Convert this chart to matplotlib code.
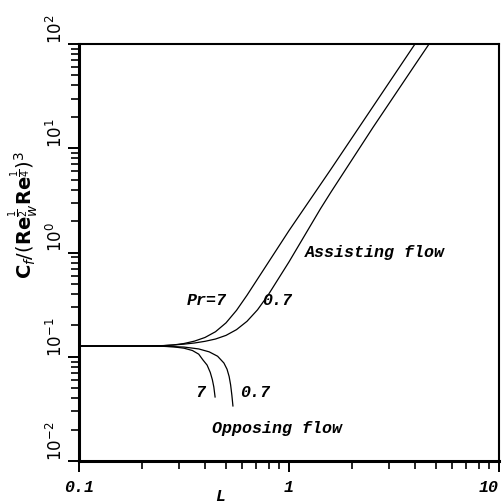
import matplotlib
matplotlib.use("Agg")
import matplotlib.pyplot as plt
import numpy as np
from matplotlib.ticker import LogLocator, NullFormatter, FixedLocator

# values, stored as log10 (both axes are logarithmic)
lx_assist_7 = [-1.0, -0.7, -0.6, -0.55, -0.5, -0.45, -0.4, -0.35, -0.3, -0.25, -0.2, -0.15, -0.1,
               0.0, 0.1, 0.2, 0.3, 0.4, 0.5, 0.6]
ly_assist_7 = [-0.897, -0.897, -0.894, -0.887, -0.873, -0.85, -0.815, -0.76, -0.675, -0.555, -0.41, -0.255, -0.1,
               0.21, 0.505, 0.8, 1.1, 1.4, 1.7, 2.0]

lx_assist_07 = [-1.0, -0.7, -0.6, -0.55, -0.5, -0.45, -0.4, -0.35, -0.3, -0.25, -0.2, -0.15, -0.1, -0.05,
                0.0, 0.05, 0.1, 0.15, 0.2, 0.3, 0.4, 0.5, 0.6, 0.667]
ly_assist_07 = [-0.897, -0.897, -0.893, -0.887, -0.879, -0.868, -0.852, -0.83, -0.795, -0.74, -0.66, -0.55, -0.41, -0.25,
                -0.09, 0.08, 0.25, 0.42, 0.58, 0.89, 1.2, 1.5, 1.8, 2.0]

lx_oppose_7 = [-1.0, -0.7, -0.6, -0.55, -0.5, -0.46, -0.43, -0.41, -0.39, -0.375, -0.365, -0.358, -0.352]
ly_oppose_7 = [-0.897, -0.897, -0.9, -0.905, -0.918, -0.94, -0.975, -1.03, -1.08, -1.15, -1.22, -1.29, -1.386]

lx_oppose_07 = [-1.0, -0.7, -0.6, -0.5, -0.43, -0.38, -0.34, -0.31, -0.295, -0.285, -0.278, -0.272, -0.267]
ly_oppose_07 = [-0.897, -0.897, -0.899, -0.907, -0.925, -0.953, -0.995, -1.06, -1.12, -1.19, -1.27, -1.37, -1.472]

xtick_vals = [0.1, 1, 10]
xtick_text = ["0.1", "1", "10"]

mono = dict(family="Liberation Mono", weight="bold", style="italic")

fig = plt.figure(figsize=(5.04, 5.04), dpi=100)
ax = fig.add_axes([79 / 504, 43 / 504, 420 / 504, 417 / 504])

for lx, ly in [(lx_assist_7, ly_assist_7), (lx_assist_07, ly_assist_07),
               (lx_oppose_7, ly_oppose_7), (lx_oppose_07, ly_oppose_07)]:
    ax.plot(10 ** np.array(lx), 10 ** np.array(ly), color="black", lw=0.9)

ax.set_xscale("log")
ax.set_yscale("log")
ax.set_xlim(0.1, 10)
ax.set_ylim(0.01, 100)

for side in ["left", "bottom"]:
    ax.spines[side].set_linewidth(2.2)
for side in ["top", "right"]:
    ax.spines[side].set_linewidth(1.5)

ax.xaxis.set_major_locator(FixedLocator(xtick_vals))
ax.set_xticklabels(xtick_text, fontsize=12, **mono)
ax.xaxis.set_minor_locator(LogLocator(base=10, subs=range(2, 10)))
ax.xaxis.set_minor_formatter(NullFormatter())
ax.yaxis.set_major_locator(LogLocator(base=10, numticks=10))
ax.yaxis.set_minor_locator(LogLocator(base=10, subs=range(2, 10), numticks=10))
ax.yaxis.set_minor_formatter(NullFormatter())

ax.tick_params(which="major", direction="out", length=8, width=1.4, color="black")
ax.tick_params(which="minor", direction="out", length=6, width=1.2, color="black")
ax.tick_params(axis="x", which="major", pad=6)
ax.tick_params(axis="y", which="major", pad=1, labelsize=12)

fig.canvas.draw()
for lab in ax.get_yticklabels():
    lab.set_rotation(90)
    lab.set_rotation_mode("anchor")
    lab.set_ha("left")
    lab.set_va("bottom")
# keep the "10" at the right end inside the picture
ax.get_xticklabels()[-1].set_ha("right")

fig.text(24 / 504, 1 - 215 / 504, r"$\mathbf{C}_f/(\mathbf{Re}_w^{\frac{1}{2}}\mathbf{Re}^{\frac{1}{4}})^3$",
         rotation=90, ha="center", va="center", fontsize=14)
ax.text(0.336, -0.067, "L", transform=ax.transAxes, ha="center", va="top", fontsize=12, **mono)

ax.text(0.407, 0.35, "Pr=7", ha="center", va="center", fontsize=12, **mono)
ax.text(0.877, 0.35, "0.7", ha="center", va="center", fontsize=12, **mono)
ax.text(1.19, 0.99, "Assisting flow", ha="left", va="center", fontsize=12, **mono)
ax.text(0.377, 0.045, "7", ha="center", va="center", fontsize=12, **mono)
ax.text(0.689, 0.045, "0.7", ha="center", va="center", fontsize=12, **mono)
ax.text(0.877, 0.0207, "Opposing flow", ha="center", va="center", fontsize=12, **mono)

fig.savefig("out.png", dpi=100)
